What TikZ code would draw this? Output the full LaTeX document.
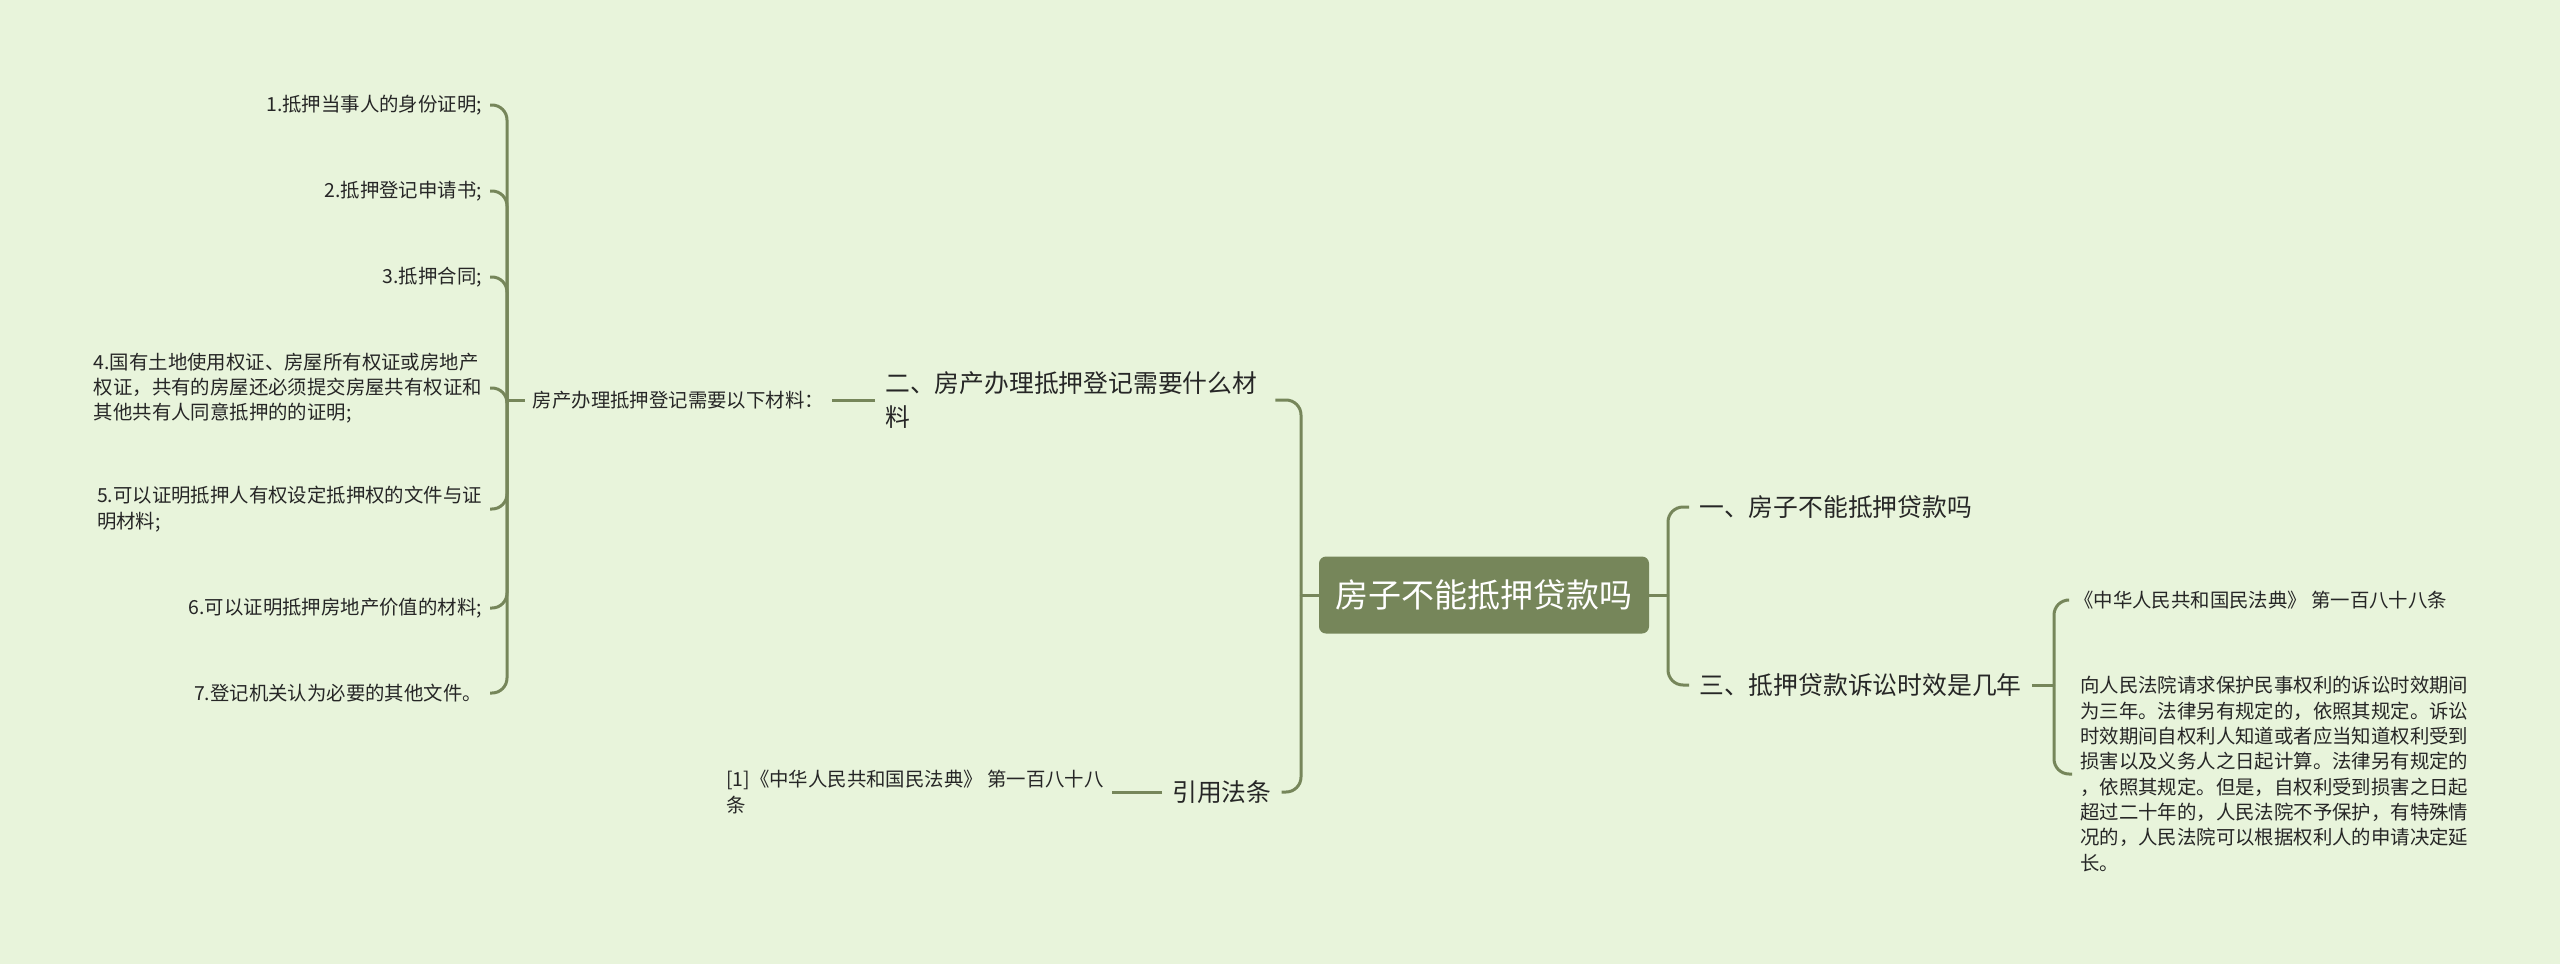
\documentclass[tikz,border=0pt]{standalone}
\usepackage{fontspec}
\setmainfont{Noto Sans CJK SC}
\usepackage{tikz}
\usetikzlibrary{positioning}
\definecolor{bgcol}{HTML}{E8F4DB}
\definecolor{mapline}{HTML}{76865A}
\definecolor{txt}{HTML}{262626}
\tikzset{
  rootbox/.style={fill=mapline, rounded corners=7pt, text=white, minimum width=330pt, minimum height=77pt, inner sep=0pt, font=\fontsize{33}{40}\selectfont},
  lvone/.style={text=txt, align=left, inner xsep=10pt, inner ysep=4pt, font=\fontsize{24.8}{34}\selectfont},
  lvtwo/.style={text=txt, align=left, inner xsep=8pt, inner ysep=3pt, font=\fontsize{19.4}{25.3}\selectfont},
  link/.style={draw=mapline, line width=3pt, rounded corners=15pt},
}
\begin{document}
\begin{tikzpicture}[x=1pt, y=-1pt]

		% Background
		\fill[bgcol] (0,0) rectangle (2560,964);
		\useasboundingbox (0,0) rectangle (2560,964);

		% Root
		\node[rootbox] (root) at (1484,595) {房子不能抵押贷款吗};

		% Left branch
		\coordinate (jl) at (1301,595);
		\node[lvone, anchor=west, text width=380pt] (q2) at (875,400) {二、房产办理抵押登记需要什么材\\料};
		\node[lvone, anchor=west] (cite) at (1162,792) {引用法条};
		\draw[link] (root.west) -- (jl);
		\draw[link] (jl) |- (q2.east);
		\draw[link] (jl) |- (cite.east);

		% Materials
		\node[lvtwo, anchor=east] (mat) at (832,400) {房产办理抵押登记需要以下材料：};
		\draw[link] (q2.west) -- (mat.east);
		\coordinate (jm) at (507,400);
		\draw[link] (mat.west) -- (jm);

		\node[lvtwo, anchor=east] (m1) at (490,105) {1.抵押当事人的身份证明;};
		\node[lvtwo, anchor=east] (m2) at (490,191) {2.抵押登记申请书;};
		\node[lvtwo, anchor=east] (m3) at (490,277) {3.抵押合同;};
		\node[lvtwo, anchor=east] (m4) at (490,388) {4.国有土地使用权证、房屋所有权证或房地产\\权证，共有的房屋还必须提交房屋共有权证和\\其他共有人同意抵押的的证明;};
		\node[lvtwo, anchor=east] (m5) at (490,509) {5.可以证明抵押人有权设定抵押权的文件与证\\明材料;};
		\node[lvtwo, anchor=east] (m6) at (490,608) {6.可以证明抵押房地产价值的材料;};
		\node[lvtwo, anchor=east] (m7) at (490,693) {7.登记机关认为必要的其他文件。};
		\foreach \m in {m1,m2,m3,m4,m5,m6,m7} {
			\draw[link] (jm) |- (\m.east);
		}

		% Citation
		\node[lvtwo, anchor=west] (ref) at (718,792) {[1]《中华人民共和国民法典》 第一百八十八\\条};
		\draw[link] (cite.west) -- (ref.east);

		% Right branch
		\coordinate (jr) at (1668,595);
		\node[lvone, anchor=west] (q1) at (1689,507) {一、房子不能抵押贷款吗};
		\node[lvone, anchor=west] (q3) at (1689,685) {三、抵押贷款诉讼时效是几年};
		\draw[link] (root.east) -- (jr);
		\draw[link] (jr) |- (q1.west);
		\draw[link] (jr) |- (q3.west);

		% Answer
		\coordinate (jq) at (2054,685);
		\draw[link] (q3.east) -- (jq);
		\node[lvtwo, anchor=west] (law) at (2066,600) {《中华人民共和国民法典》 第一百八十八条};
		\node[lvtwo, anchor=west] (para) at (2072,774) {向人民法院请求保护民事权利的诉讼时效期间\\为三年。法律另有规定的，依照其规定。诉讼\\时效期间自权利人知道或者应当知道权利受到\\损害以及义务人之日起计算。法律另有规定的\\，依照其规定。但是，自权利受到损害之日起\\超过二十年的，人民法院不予保护，有特殊情\\况的，人民法院可以根据权利人的申请决定延\\长。};
		\draw[link] (jq) |- (law.west);
		\draw[link] (jq) |- (para.west);

	\end{tikzpicture}
\end{document}
